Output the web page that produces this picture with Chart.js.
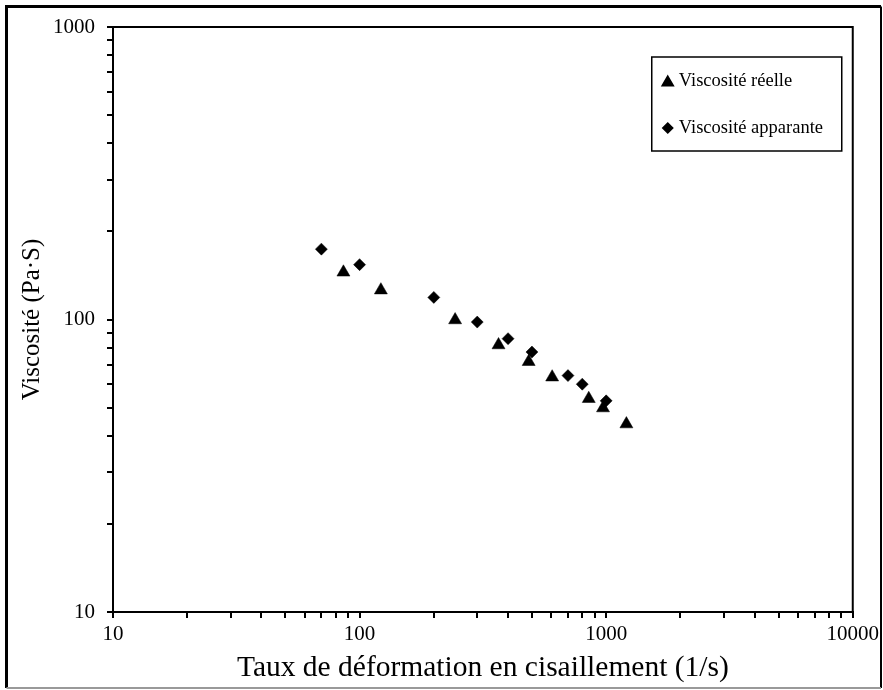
<!DOCTYPE html>
<html>
<head>
<meta charset="utf-8">
<title>Viscosité</title>
<script src="https://cdn.jsdelivr.net/npm/chart.js@4"></script>
<style>
  html, body { margin: 0; padding: 0; background: #fff; }
  #viscosityChart { display: block; }
</style>
</head>
<body>
<canvas id="viscosityChart" width="883" height="690"></canvas>
<script>
// Data
const shearRateReal = [86, 122, 244, 366, 485, 604, 850, 971, 1208];
const viscosityReal = [145, 126, 99.6, 81.8, 71.7, 63.5, 53.6, 49.8, 43.9];

const shearRateApparent = [70, 100, 200, 300, 400, 500, 700, 800, 1000];
const viscosityApparent = [174, 154, 119, 98, 86, 77.4, 64.3, 60.1, 52.7];

const xTickLabels = [10, 100, 1000, 10000];
const yTickLabels = [10, 100, 1000];

const FONT = '"Liberation Serif", "Times New Roman", serif';

/**
 * Tick values 1..9 x 10^k between the first and last labelled decade
 */
function decadeTicks(labels) {
    const values = [];
    for (let i = 0; i < labels.length - 1; i++) {
        for (let m = 1; m < 10; m++) {
            values.push(labels[i] * m);
        }
    }
    values.push(labels[labels.length - 1]);
    return values;
}

function toPoints(xs, ys) {
    return xs.map((x, i) => ({ x: x, y: ys[i] }));
}

/**
 * Frame around the whole picture and around the plot area
 */
const framePlugin = {
    id: 'frames',
    beforeDraw(chart) {
        const ctx = chart.ctx;
        ctx.save();
        ctx.fillStyle = '#fff';
        ctx.fillRect(0, 0, chart.width, chart.height);
        ctx.restore();
    },
    afterDraw(chart) {
        const ctx = chart.ctx;
        const area = chart.chartArea;
        ctx.save();
        ctx.strokeStyle = '#000';
        ctx.lineWidth = 2;
        ctx.strokeRect(area.left, area.top, area.right - area.left, area.bottom - area.top);

        // outer border
        ctx.lineWidth = 3;
        ctx.beginPath();
        ctx.moveTo(6.5, 688);
        ctx.lineTo(6.5, 6.5);
        ctx.lineTo(881, 6.5);
        ctx.stroke();
        ctx.lineWidth = 2;
        ctx.beginPath();
        ctx.moveTo(881, 6.5);
        ctx.lineTo(881, 688);
        ctx.stroke();
        ctx.strokeStyle = '#999';
        ctx.beginPath();
        ctx.moveTo(6.5, 688);
        ctx.lineTo(881, 688);
        ctx.stroke();
        ctx.restore();
    }
};

/**
 * Boxed legend in the upper right corner of the plot area
 */
const boxLegendPlugin = {
    id: 'boxLegend',
    afterDraw(chart) {
        const ctx = chart.ctx;
        const area = chart.chartArea;
        const boxRight = area.right - 11;
        const boxLeft = boxRight - 190;
        const boxTop = area.top + 30;
        const boxHeight = 94;

        ctx.save();
        ctx.fillStyle = '#fff';
        ctx.fillRect(boxLeft, boxTop, boxRight - boxLeft, boxHeight);
        ctx.strokeStyle = '#000';
        ctx.lineWidth = 1.5;
        ctx.strokeRect(boxLeft, boxTop, boxRight - boxLeft, boxHeight);

        ctx.font = '18.5px ' + FONT;
        ctx.textBaseline = 'middle';
        ctx.textAlign = 'left';
        ctx.fillStyle = '#000';

        chart.data.datasets.forEach((ds, i) => {
            const y = boxTop + 24 + i * 47;
            ctx.fillStyle = '#000';
            ctx.strokeStyle = '#000';
            Chart.helpers.drawPoint(ctx, {
                pointStyle: ds.pointStyle,
                radius: ds.pointStyle === 'triangle' ? 6.5 : 5,
                rotation: 0,
                borderWidth: 0.5
            }, boxLeft + 16, y + (ds.pointStyle === 'triangle' ? 1.5 : 0));
            ctx.fillText(ds.label, boxLeft + 27, y);
        });
        ctx.restore();
    }
};

document.addEventListener('DOMContentLoaded', function() {
    const ctx = document.getElementById('viscosityChart').getContext('2d');

    new Chart(ctx, {
        type: 'scatter',
        data: {
            datasets: [
                {
                    label: 'Viscosité réelle',
                    data: toPoints(shearRateReal, viscosityReal),
                    pointStyle: 'triangle',
                    pointRadius: 7.5,
                    pointHoverRadius: 7.5,
                    backgroundColor: '#000',
                    borderColor: '#000',
                    borderWidth: 0.5
                },
                {
                    label: 'Viscosité apparante',
                    data: toPoints(shearRateApparent, viscosityApparent),
                    pointStyle: 'rectRot',
                    pointRadius: 6,
                    pointHoverRadius: 6,
                    backgroundColor: '#000',
                    borderColor: '#000',
                    borderWidth: 0.5
                }
            ]
        },
        options: {
            responsive: false,
            animation: false,
            events: [],
            layout: {
                padding: { left: 8, right: 30, top: 27, bottom: 0 }
            },
            plugins: {
                legend: { display: false },
                tooltip: { enabled: false }
            },
            scales: {
                x: {
                    type: 'logarithmic',
                    position: 'bottom',
                    min: 10,
                    max: 10000,
                    border: { display: true, color: '#000', width: 2 },
                    grid: {
                        drawOnChartArea: false,
                        drawTicks: true,
                        tickLength: 6,
                        color: '#000',
                        lineWidth: 2
                    },
                    afterBuildTicks: function(scale) {
                        scale.ticks = decadeTicks(xTickLabels).map(v => ({ value: v }));
                    },
                    afterFit: function(scale) {
                        scale.height = 78;
                    },
                    ticks: {
                        autoSkip: false,
                        maxRotation: 0,
                        padding: 4,
                        color: '#000',
                        font: { family: FONT, size: 21 },
                        callback: value => xTickLabels.includes(value) ? String(value) : ''
                    },
                    title: {
                        display: true,
                        text: 'Taux de déformation en cisaillement (1/s)',
                        color: '#000',
                        font: { family: FONT, size: 29.5 },
                        padding: { top: 0, bottom: 4 }
                    }
                },
                y: {
                    type: 'logarithmic',
                    position: 'left',
                    min: 10,
                    max: 1000,
                    border: { display: true, color: '#000', width: 2 },
                    grid: {
                        drawOnChartArea: false,
                        drawTicks: true,
                        tickLength: 6,
                        color: '#000',
                        lineWidth: 2
                    },
                    afterBuildTicks: function(scale) {
                        scale.ticks = decadeTicks(yTickLabels).map(v => ({ value: v }));
                    },
                    afterFit: function(scale) {
                        scale.width = 105;
                    },
                    ticks: {
                        autoSkip: false,
                        padding: 12,
                        color: '#000',
                        font: { family: FONT, size: 21 },
                        callback: value => yTickLabels.includes(value) ? String(value) : ''
                    },
                    title: {
                        display: true,
                        text: 'Viscosité (Pa·S)',
                        color: '#000',
                        font: { family: FONT, size: 25 },
                        padding: { top: 9, bottom: 0 }
                    }
                }
            }
        },
        plugins: [framePlugin, boxLegendPlugin]
    });
});
</script>
</body>
</html>
